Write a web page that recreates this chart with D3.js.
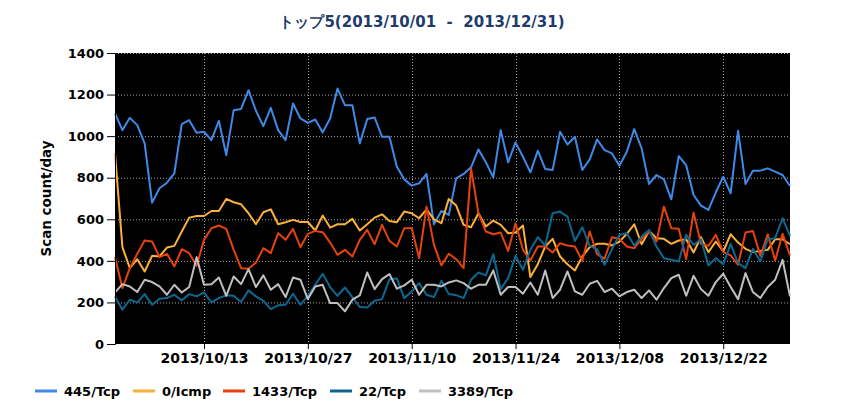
<!DOCTYPE html>
<meta charset="utf-8">
<style>
body { margin: 0; background: #fff; }
text { font-family: "DejaVu Sans", sans-serif; }
.tick text { font-size: 13px; font-weight: bold; fill: #000; }
.grid line { stroke: #aaa; stroke-dasharray: 1,2; }
.series { fill: none; stroke-width: 2px; stroke-linejoin: round; }
</style>
<body>
<script src="https://d3js.org/d3.v7.min.js"></script>
<script>

// daily values, 2013/10/01 .. 2013/12/31
var startDate = "2013-10-01", endDate = "2014-01-01";
var tickLabels = ["2013/10/13", "2013/10/27", "2013/11/10", "2013/11/24", "2013/12/08", "2013/12/22"];
var yTicks = [0, 200, 400, 600, 800, 1000, 1200, 1400];

var names = ["445/Tcp", "0/Icmp", "1433/Tcp", "22/Tcp", "3389/Tcp"];
var colors = ["#3f8ae6", "#fbb03b", "#e6420e", "#0c6891", "#c0c0c0"];

var tcp445 = [1109,1029,1088,1053,965,680,749,776,821,1058,1077,1016,1021,981,1074,909,1125,1131,1221,1122,1048,1136,1029,981,
  1157,1085,1064,1080,1018,1085,1229,1149,1149,965,1082,1090,997,997,853,792,762,773,818,576,640,621,797,
  818,850,936,874,802,1029,874,970,901,826,930,842,837,1021,960,997,837,888,984,933,917,858,925,
  1034,941,770,813,792,696,904,861,717,666,645,730,805,725,1026,770,834,834,845,829,813,760];
var icmp0 = [917,466,365,408,349,424,421,464,472,541,608,616,616,640,640,698,682,672,629,576,634,648,576,586,
  597,587,587,546,618,560,576,576,602,546,576,608,624,592,586,637,629,605,648,600,581,698,666,
  573,562,629,565,594,573,533,536,570,322,384,469,506,421,384,354,421,466,482,482,474,493,530,
  576,480,544,509,506,482,498,504,440,514,442,493,445,528,488,458,442,448,453,504,504,480];
var tcp1433 = [418,269,365,434,498,493,418,434,373,456,437,376,501,557,570,554,453,365,362,392,461,437,533,501,
  554,466,530,544,538,488,429,453,421,501,549,480,573,496,469,557,557,413,661,477,378,434,408,
  365,845,629,541,528,536,448,581,453,402,469,469,440,485,474,469,400,541,432,410,514,506,469,
  461,506,541,493,661,557,554,408,632,482,472,525,442,426,381,536,544,424,528,402,530,426];
var tcp22 = [229,165,213,200,240,189,218,221,237,210,240,229,248,200,221,234,232,202,258,229,208,168,186,189,
  242,189,232,285,338,274,232,272,226,178,176,208,216,312,315,221,253,293,237,226,304,240,235,
  221,309,344,330,432,264,317,424,357,453,514,474,629,637,613,496,562,472,456,381,456,525,533,
  474,517,549,469,413,405,397,525,477,504,378,413,384,482,389,365,458,397,504,509,605,520];
var tcp3389 = [248,288,277,250,309,298,277,237,285,248,274,418,285,288,320,232,325,288,360,274,330,261,288,226,
  320,309,216,277,285,197,197,157,213,234,344,264,312,336,266,282,309,237,285,285,277,296,306,
  293,266,285,285,354,237,274,274,242,296,237,354,221,261,349,253,237,290,304,250,266,229,250,
  261,221,258,213,269,317,333,232,328,264,232,298,338,274,216,341,250,221,274,309,405,229];

var seriesValues = [tcp445, icmp0, tcp1433, tcp22, tcp3389];

var parse = d3.timeParse("%Y-%m-%d"), parseTick = d3.timeParse("%Y/%m/%d");
var days = d3.timeDay.range(parse(startDate), parse(endDate));

var margin = {top: 53, right: 60, bottom: 76, left: 115},
    width = 850 - margin.left - margin.right,
    height = 420 - margin.top - margin.bottom;

var svg = d3.select("body").append("svg")
    .attr("width", 850)
    .attr("height", 420);

svg.append("text")
    .attr("x", 422).attr("y", 27)
    .attr("text-anchor", "middle")
    .style("font-size", "15px").style("font-weight", "bold")
    .style("fill", "#1f3b6b")
    .text("トップ5(2013/10/01\u00a0\u00a0-\u00a0\u00a02013/12/31)");

var g = svg.append("g")
    .attr("transform", "translate(" + margin.left + "," + margin.top + ")");

var x = d3.scaleTime().domain([days[0], days[days.length - 1]]).range([0, width]);
var y = d3.scaleLinear().domain([0, 1400]).range([height, 0]);

g.append("rect").attr("width", width).attr("height", height).attr("fill", "#000");

// grid
g.append("g").attr("class", "grid")
  .selectAll("line").data(yTicks.slice(1)).enter().append("line")
    .attr("x1", 0).attr("x2", width)
    .attr("y1", function(d) { return y(d) + 0.5; })
    .attr("y2", function(d) { return y(d) + 0.5; });
g.append("g").attr("class", "grid")
  .selectAll("line").data(tickLabels).enter().append("line")
    .attr("x1", function(d) { return Math.round(x(parseTick(d))) + 0.5; })
    .attr("x2", function(d) { return Math.round(x(parseTick(d))) + 0.5; })
    .attr("y1", 0).attr("y2", height);

var line = d3.line()
    .x(function(d, i) { return x(days[i]); })
    .y(function(d) { return y(d); });

g.selectAll(".series").data(seriesValues).enter().append("path")
    .attr("class", "series")
    .attr("stroke", function(d, i) { return colors[i]; })
    .attr("d", line);

// axes
var xAxis = g.append("g")
    .attr("transform", "translate(0," + height + ")")
    .call(d3.axisBottom(x).tickValues(tickLabels.map(parseTick))
      .tickFormat(d3.timeFormat("%Y/%m/%d")).tickSize(5).tickPadding(4));
xAxis.select(".domain").remove();
xAxis.selectAll(".tick text").style("font-size", "14px");

var yAxis = g.append("g")
    .call(d3.axisLeft(y).tickValues(yTicks).tickFormat(d3.format("d"))
      .tickSize(8).tickPadding(3));
yAxis.select(".domain").attr("stroke", "#000");

g.append("text")
    .attr("transform", "translate(-64," + (height / 2) + ") rotate(-90)")
    .attr("text-anchor", "middle")
    .style("font-size", "13.5px").style("font-weight", "bold")
    .text("Scan count/day");

// legend
var legendX = [35, 133, 223, 330, 419];
var legend = svg.selectAll(".legend").data(names).enter().append("g")
    .attr("transform", function(d, i) { return "translate(" + legendX[i] + ",391)"; });
legend.append("line")
    .attr("x1", 0).attr("x2", 22)
    .attr("stroke", function(d, i) { return colors[i]; })
    .attr("stroke-width", 3);
legend.append("text")
    .attr("x", 29).attr("y", 5)
    .style("font-size", "13px").style("font-weight", "bold")
    .text(function(d) { return d; });

</script>
</body>
